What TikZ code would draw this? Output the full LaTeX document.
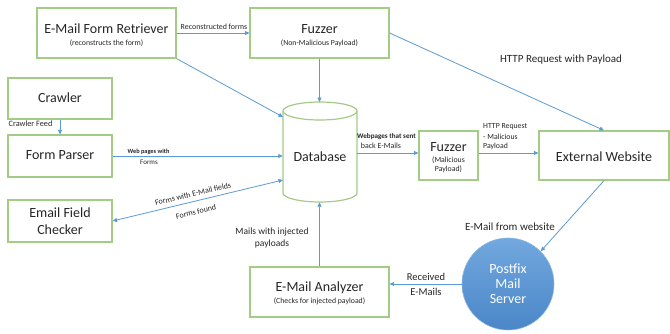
\documentclass[tikz,border=0pt]{standalone}
\usepackage{fontspec}
\setmainfont{Carlito}
\usetikzlibrary{arrows.meta,calc}
\definecolor{boxgreen}{HTML}{A3CC85}
\definecolor{arrowblue}{HTML}{5B9BD5}
\definecolor{txt}{HTML}{262626}
\definecolor{circtop}{HTML}{72A8DE}
\definecolor{circbot}{HTML}{4A86C8}
\definecolor{circedge}{HTML}{8DB8E3}
\begin{document}
\begin{tikzpicture}[x=1pt,y=-1pt,
  box/.style={draw=boxgreen, line width=1.2pt, fill=white, inner sep=0pt, rectangle},
  big/.style={font=\fontsize{14}{16}\selectfont, text=txt, inner sep=0pt},
  sub/.style={font=\fontsize{7.8}{9}\selectfont, text=txt, inner sep=0pt},
  lbl/.style={text=txt, inner sep=0pt},
  tip/.tip={Triangle[length=4.5pt,width=4pt]},
  conn/.style={draw=arrowblue, line width=0.8pt, -tip}]
\useasboundingbox (0,0) rectangle (670,333);
\fill[white] (0,0) rectangle (670,333);

% boxes
\node[box, minimum width=139pt, minimum height=50pt] (retr) at (106.5,33) {};
\node[big] (retrT) at (106.5,29) {E-Mail Form Retriever};
\node[sub] (retrS) at (106.5,43) {(reconstructs the form)};

\node[box, minimum width=139pt, minimum height=50pt] (fuzz1) at (319.5,33) {};
\node[big] (fuzz1T) at (319.5,29) {Fuzzer};
\node[sub] (fuzz1S) at (319.5,43) {(Non-Malicious Payload)};

\node[box, minimum width=104pt, minimum height=41pt] (crawler) at (60,98.5) {};
\node[big] (crawlerT) at (60,98) {Crawler};

\node[box, minimum width=104pt, minimum height=42pt] (parser) at (60,156) {};
\node[big] (parserT) at (60,155) {Form Parser};

\node[box, minimum width=104pt, minimum height=42pt] (checker) at (60,221) {};
\node[big] (checkerT1) at (60,213) {Email Field};
\node[big] (checkerT2) at (60,230) {Checker};

\node[box, minimum width=59pt, minimum height=49pt] (fuzz2) at (448.5,155.5) {};
\node[big] (fuzz2T) at (448.5,147) {Fuzzer};
\node[sub] (fuzz2S1) at (448.5,160) {(Malicious};
\node[sub] (fuzz2S2) at (448.5,169) {Payload)};

\node[box, minimum width=130pt, minimum height=49pt] (ext) at (604,155.5) {};
\node[big] (extT) at (604,157) {External Website};

\node[box, minimum width=139pt, minimum height=50pt] (analyzer) at (319.5,292) {};
\node[big] (analyzerT) at (319.5,288) {E-Mail Analyzer};
\node[sub] (analyzerS) at (319.5,301) {(Checks for injected payload)};

% database cylinder
\node[inner sep=0pt, minimum width=74pt, minimum height=91pt] (db) at (320,156.5) {};
\draw[boxgreen, line width=1.2pt, fill=white] (283,111) -- (283,193)
  arc[start angle=180, end angle=360, x radius=37pt, y radius=9pt] -- (357,111);
\draw[boxgreen, line width=1.2pt, fill=white] (320,111) ellipse [x radius=37pt, y radius=9pt];
\node[big] (dbT) at (320,157) {Database};
\coordinate (dbtop) at (320,102);
\coordinate (dbA) at (283,117);
\coordinate (dbB) at (283,180);
\coordinate (dbC) at (357,153);

% postfix
\node[circle, minimum size=92pt, inner sep=0pt, top color=circtop, bottom color=circbot,
  draw=circedge, line width=0.6pt] (postfix) at (508,284) {};
\node[font=\fontsize{14}{16}\selectfont, text=white, inner sep=0pt] (pf1) at (508,269) {Postfix};
\node[font=\fontsize{14}{16}\selectfont, text=white, inner sep=0pt] (pf2) at (508,284) {Mail};
\node[font=\fontsize{14}{16}\selectfont, text=white, inner sep=0pt] (pf3) at (508,299) {Server};

% connectors
\draw[conn] (retr.east) -- (fuzz1.west);
\node[lbl, font=\fontsize{7.9}{9}\selectfont] (lRec) at (214,27) {Reconstructed forms};

\draw[conn] (retr.south east) -- (dbA);
\draw[conn] (fuzz1.south) -- (fuzz1.south |- dbtop);
\draw[conn] (fuzz1.east) -- (ext.north);
\node[lbl, font=\fontsize{11}{13}\selectfont] (lHttp) at (561,60) {HTTP Request with Payload};

\draw[conn] (crawler.south) -- (parser.north);
\node[lbl, font=\fontsize{8.2}{10}\selectfont] (lFeed) at (30.5,124) {Crawler Feed};

\draw[conn] (parser.east) -- (parser.east -| db.west);
\node[lbl, font=\bfseries\fontsize{6.3}{8}\selectfont] (lWeb1) at (148.5,152) {Web pages with};
\node[lbl, font=\fontsize{7}{8}\selectfont] (lWeb2) at (149,162) {Forms};

\draw[conn, tip-tip] (checker.east) -- (dbB);
\node[lbl, font=\fontsize{8}{9}\selectfont, rotate=13.5] (lFw) at (193,194) {Forms with E-Mail fields};
\node[lbl, font=\fontsize{8}{9}\selectfont, rotate=13.5] (lFf) at (196,212) {Forms found};

\draw[conn] (dbC) -- (dbC -| fuzz2.west);
\node[lbl, font=\bfseries\fontsize{7.1}{8}\selectfont] (lWs1) at (386.5,137) {Webpages that sent};
\node[lbl, font=\fontsize{7.9}{9}\selectfont] (lWs2) at (381,146) {back E-Mails};

\draw[conn] (fuzz2.east |- dbC) -- (dbC -| ext.west);
\node[lbl, anchor=west, font=\fontsize{7.8}{9}\selectfont] (lHm1) at (483,127) {HTTP Request};
\node[lbl, anchor=west, font=\fontsize{7.8}{9}\selectfont] (lHm2) at (483,137) {- Malicious};
\node[lbl, anchor=west, font=\fontsize{7.8}{9}\selectfont] (lHm3) at (483,146) {Payload};

\draw[conn] (ext.south) -- (postfix.north east);
\node[lbl, font=\fontsize{11}{13}\selectfont] (lFrom) at (510,227) {E-Mail from website};

\draw[conn] (postfix.west) -- (postfix.west -| analyzer.east);
\node[lbl, font=\fontsize{10.5}{12}\selectfont] (lRcv1) at (426,277) {Received};
\node[lbl, font=\fontsize{10.5}{12}\selectfont] (lRcv2) at (426,292) {E-Mails};

\draw[conn] (analyzer.north) -- (analyzer.north |- db.south);
\node[lbl, font=\fontsize{9.5}{11}\selectfont] (lMi1) at (272,232) {Mails with injected};
\node[lbl, font=\fontsize{9.5}{11}\selectfont] (lMi2) at (272,244) {payloads};
\end{tikzpicture}
\end{document}
